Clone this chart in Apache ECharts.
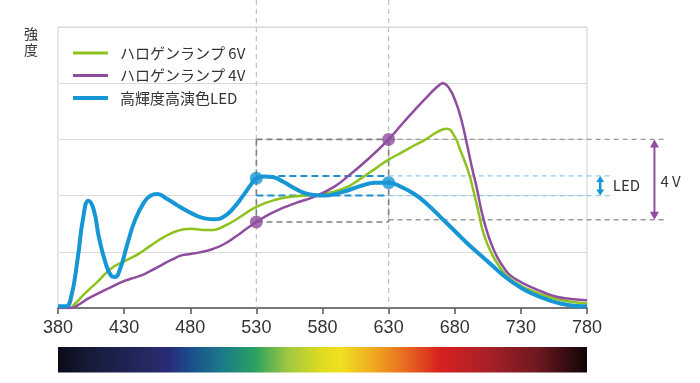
<!DOCTYPE html>
<html><head><meta charset="utf-8">
<script src="https://cdn.jsdelivr.net/npm/echarts@6/dist/echarts.min.js"></script>
<style>html,body{margin:0;padding:0;background:#fff}#c{width:700px;height:383px}</style>
</head><body><div id="c"></div>
<script>
// ---- data ----
const xTicks = [380, 430, 480, 530, 580, 630, 680, 730, 780];
const seriesNames = ['ハロゲンランプ 6V', 'ハロゲンランプ 4V', '高輝度高演色LED'];
const yAxisName = '強\n度';

const h6X = [380, 388, 393, 400, 410, 420, 430, 440, 450, 460, 470, 480, 490, 497, 505, 515, 530, 545, 560, 575, 590, 600, 610, 620, 630, 640, 650, 658, 666, 674, 680, 684, 690, 694, 698, 701, 705, 709, 714, 719, 728, 737, 747, 757, 768, 780];
const h6Y = [0, 0, 0.08, 0.25, 0.47, 0.7, 0.83, 0.95, 1.11, 1.26, 1.37, 1.41, 1.39, 1.39, 1.45, 1.58, 1.8, 1.93, 1.99, 2.01, 2.08, 2.17, 2.32, 2.48, 2.64, 2.77, 2.9, 3.0, 3.12, 3.19, 3.05, 2.82, 2.45, 2.1, 1.7, 1.39, 1.12, 0.92, 0.73, 0.58, 0.42, 0.32, 0.23, 0.16, 0.11, 0.08];

const h4X = [380, 390, 395, 403, 412, 421, 428, 435, 443, 450, 458, 466, 474, 480, 487, 497, 505, 515, 522, 530, 540, 550, 560, 574, 589, 600, 615, 630, 640, 650, 660, 667, 671, 676, 681, 685, 689, 693, 697, 700, 704, 708, 712, 717, 722, 730, 737, 747, 757, 768, 780];
const h4Y = [0, 0, 0.05, 0.17, 0.28, 0.38, 0.46, 0.52, 0.58, 0.66, 0.76, 0.86, 0.94, 0.96, 0.99, 1.05, 1.13, 1.28, 1.4, 1.53, 1.67, 1.78, 1.87, 1.98, 2.16, 2.36, 2.66, 3.0, 3.27, 3.53, 3.78, 3.94, 4.0, 3.9, 3.65, 3.35, 2.94, 2.5, 2.1, 1.75, 1.39, 1.12, 0.91, 0.72, 0.58, 0.46, 0.38, 0.28, 0.2, 0.16, 0.14];

const ledX = [380, 386, 390, 395, 399, 403, 407, 411, 416, 420, 423, 427, 432, 438, 445, 450, 455, 462, 470, 478, 485, 492, 498, 505, 512, 520, 526, 530, 536, 542, 550, 558, 566, 574, 582, 590, 600, 610, 620, 630, 640, 650, 660, 670, 680, 690, 700, 710, 720, 730, 740, 750, 760, 770, 780];
const ledY = [0.03, 0.03, 0.2, 0.9, 1.6, 1.91, 1.75, 1.25, 0.8, 0.58, 0.55, 0.7, 1.1, 1.55, 1.88, 2.0, 2.03, 1.95, 1.83, 1.72, 1.64, 1.59, 1.58, 1.62, 1.76, 2.0, 2.2, 2.31, 2.34, 2.33, 2.25, 2.14, 2.05, 2.01, 2.0, 2.03, 2.1, 2.18, 2.23, 2.23, 2.15, 2.02, 1.83, 1.6, 1.37, 1.14, 0.93, 0.72, 0.52, 0.36, 0.24, 0.15, 0.08, 0.04, 0.03];

const markX = [530, 630];
const h4Mark = [1.53, 3.0];
const ledMark = [2.31, 2.23];
const h4Band = [3.0, 1.53, 1.57];   // top, box bottom, extension bottom
const ledBand = [2.35, 2.0];
const annoLabels = ['LED', '4 V'];

const specPos = [0, 0.057, 0.183, 0.208, 0.246, 0.31, 0.372, 0.435, 0.499, 0.533, 0.59, 0.652, 0.722, 0.811, 0.905, 1];
const specCol = ['#0a0a18', '#151a38', '#262a66', '#2a2a7a', '#1a4a8a', '#1a7a8a', '#2aa060', '#a0c840', '#e0dc20', '#f0e020', '#f0b020', '#e87020', '#d82020', '#a82028', '#701820', '#100406'];

const C_G = '#8dc21f', C_P = '#8e4d9e', C_B = '#1796d5';
const FONT = '"Noto Sans CJK JP", "Noto Sans", sans-serif';

const zip = (xs, ys) => xs.map((x, i) => [x, ys[i]]);

const chart = echarts.init(document.getElementById('c'), null, {renderer: 'canvas'});
const lineSeries = (name, xs, ys, color, w) => ({
  name, type: 'line', data: zip(xs, ys), smooth: 0.5,
  symbol: 'none', lineStyle: {color, width: w}, itemStyle: {color}, z: 3
});
const legendBase = {
  orient: 'vertical', left: 73, padding: 0, itemWidth: 35, itemGap: 4.5, icon: 'rect',
  textStyle: {fontFamily: FONT, fontSize: 15, color: '#333', lineHeight: 18, padding: [0, 0, 0, 7]}
};

chart.setOption({
  animation: false,
  grid: {left: 58, right: 113, top: 27, bottom: 75, show: true, borderColor: '#cfcfcf', borderWidth: 1},
  title: {text: yAxisName, left: 19, top: 21, textStyle: {fontFamily: FONT, fontSize: 14, fontWeight: 'normal', color: '#333', lineHeight: 16}},
  legend: [
    Object.assign({}, legendBase, {top: 44, itemHeight: 3, data: seriesNames.slice(0, 2)}),
    Object.assign({}, legendBase, {top: 89, itemHeight: 4, data: seriesNames.slice(2)})
  ],
  xAxis: {
    type: 'value', min: xTicks[0], max: xTicks[xTicks.length - 1], interval: 50,
    axisLine: {lineStyle: {color: '#555', width: 1.5}},
    axisTick: {length: 6, lineStyle: {color: '#555', width: 1.5}},
    axisLabel: {fontFamily: '"Liberation Sans", sans-serif', fontSize: 18, color: '#333', margin: 11},
    splitLine: {show: false}
  },
  yAxis: {
    type: 'value', min: 0, max: 5, interval: 1,
    axisLine: {show: false}, axisTick: {show: false}, axisLabel: {show: false},
    splitLine: {lineStyle: {color: '#dadada', width: 1}}
  },
  series: [
    lineSeries(seriesNames[0], h6X, h6Y, C_G, 2.5),
    lineSeries(seriesNames[1], h4X, h4Y, C_P, 2.5),
    lineSeries(seriesNames[2], ledX, ledY, C_B, 4),
    {type: 'scatter', name: 'p4', data: zip(markX, h4Mark), symbolSize: 13, itemStyle: {color: C_P}, z: 6},
    {type: 'scatter', name: 'pl', data: zip(markX, ledMark), symbolSize: 13, itemStyle: {color: C_B}, z: 6}
  ]
});

const P = (x, y) => chart.convertToPixel({xAxisIndex: 0, yAxisIndex: 0}, [x, y]);
const g = [];
const seg = (a, b, color, w, dash, z) => g.push({type: 'line', shape: {x1: a[0], y1: a[1], x2: b[0], y2: b[1]},
  style: {stroke: color, lineWidth: w, lineDash: dash}, z: z || 1, silent: true});

// vertical guide lines from top of picture to the axis
markX.forEach(x => { const b = P(x, 0); seg([b[0], 0], b, '#c4c4c4', 1.3, [5, 4], 1); });

// halogen 4V box
const [xa, xb] = markX;
seg(P(xa, h4Band[0]), P(xb, h4Band[0]), '#808080', 1.6, [6, 4], 2);
seg(P(xa, h4Band[1]), P(xb, h4Band[1]), '#808080', 1.6, [6, 4], 2);
seg(P(xa, h4Band[0]), P(xa, h4Band[1]), '#808080', 1.6, [6, 4], 2);
seg(P(xb, h4Band[0]), P(xb, h4Band[1]), '#808080', 1.6, [6, 4], 2);
seg(P(xb, h4Band[0]), P(840, h4Band[0]), '#9a9a9a', 1.3, [5, 4], 2);
seg(P(xb, h4Band[2]), P(840, h4Band[2]), '#9a9a9a', 1.3, [5, 4], 2);

// LED band
seg(P(xa, ledBand[0]), P(xb, ledBand[0]), '#1a8fd0', 2, [7, 4], 2);
seg(P(xa, ledBand[1]), P(xb, ledBand[1]), '#1a8fd0', 2, [7, 4], 2);
seg(P(xb, ledBand[0]), P(800, ledBand[0]), '#8ccbea', 1.2, [5, 4], 2);
seg(P(xb, ledBand[1]), P(800, ledBand[1]), '#8ccbea', 1.2, [5, 4], 2);

// double arrows
function dblArrow(x, y1, y2, color, w, hw, hh) {
  const t = P(x, y1), b = P(x, y2);
  seg([t[0], t[1] + hh * 0.6], [b[0], b[1] - hh * 0.6], color, w, null, 4);
  g.push({type: 'polygon', shape: {points: [[t[0], t[1]], [t[0] - hw / 2, t[1] + hh], [t[0] + hw / 2, t[1] + hh]]}, style: {fill: color}, z: 4});
  g.push({type: 'polygon', shape: {points: [[b[0], b[1]], [b[0] - hw / 2, b[1] - hh], [b[0] + hw / 2, b[1] - hh]]}, style: {fill: color}, z: 4});
}
dblArrow(790, ledBand[0], ledBand[1], C_B, 2.5, 8, 6);
dblArrow(831, h4Band[0], h4Band[2], C_P, 2, 9, 8);
const tl = P(799.5, (ledBand[0] + ledBand[1]) / 2);
g.push({type: 'text', x: tl[0], y: tl[1], style: {text: annoLabels[0], fontFamily: FONT, fontSize: 15, fill: '#333', verticalAlign: 'middle', align: 'left'}, z: 4});
const tv = P(835.5, 2.25);
g.push({type: 'text', x: tv[0], y: tv[1], style: {text: annoLabels[1], fontFamily: FONT, fontSize: 15, fill: '#333', verticalAlign: 'middle', align: 'left'}, z: 4});

// spectrum bar
const l = P(380, 0), r = P(780, 0);
g.push({type: 'rect', shape: {x: l[0], y: l[1] + 39, width: r[0] - l[0], height: 25.5},
  style: {fill: new echarts.graphic.LinearGradient(0, 0, 1, 0, specPos.map((p, i) => ({offset: p, color: specCol[i]})))}, z: 1});

chart.setOption({graphic: g});
</script></body></html>
